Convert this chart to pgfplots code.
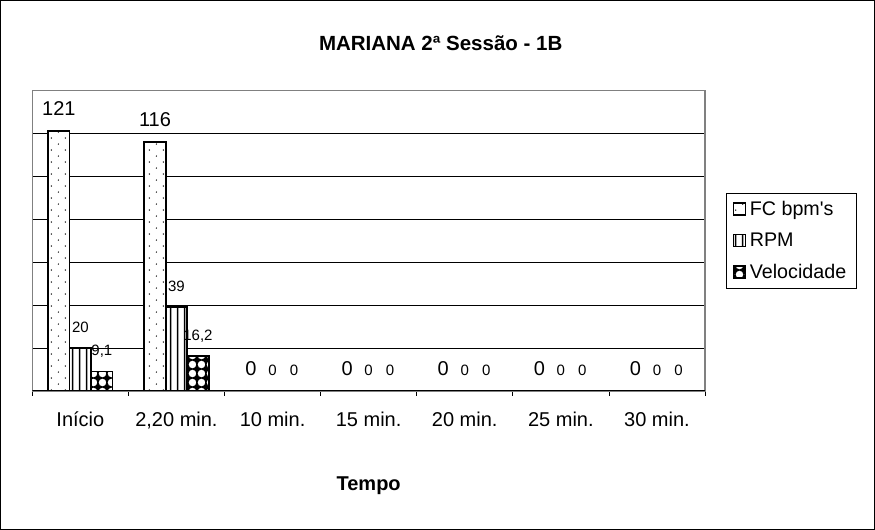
\documentclass[border=0pt]{standalone}
\usepackage{fontspec}
\setmainfont{Liberation Sans}[Ligatures=TeXOff]
\usepackage{pgfplots}
\pgfplotsset{compat=1.18}
\usetikzlibrary{patterns}

\pgfdeclarepatternformonly{fcdots}{\pgfpointorigin}{\pgfqpoint{14pt}{12pt}}{\pgfqpoint{14pt}{12pt}}{%
  \pgfpathcircle{\pgfqpoint{3.5pt}{3pt}}{0.75pt}%
  \pgfpathcircle{\pgfqpoint{10.5pt}{9pt}}{0.75pt}%
  \pgfusepath{fill}}
\pgfdeclarepatternformonly{rpmlines}{\pgfpointorigin}{\pgfqpoint{7pt}{7pt}}{\pgfqpoint{7pt}{7pt}}{%
  \pgfpathrectangle{\pgfqpoint{3pt}{0pt}}{\pgfqpoint{1.3pt}{7pt}}%
  \pgfusepath{fill}}
\pgfdeclarepatternformonly{veldiam}{\pgfpointorigin}{\pgfqpoint{9pt}{9pt}}{\pgfqpoint{9pt}{9pt}}{%
  \pgfseteorule
  \pgfpathrectangle{\pgfpointorigin}{\pgfqpoint{9pt}{9pt}}%
  \pgfpathcircle{\pgfqpoint{4.5pt}{4.5pt}}{3.9pt}%
  \pgfusepath{fill}}

\pgfplotstableread{
x fc rpm vel
0.5 121 20 9.1
1.5 116 39 16.2
2.5 0 0 0
3.5 0 0 0
4.5 0 0 0
5.5 0 0 0
6.5 0 0 0
}\datatable

\begin{document}
\begin{tikzpicture}
\useasboundingbox (0,0) rectangle (875bp,530bp);
\draw[line width=1bp] (0.5bp,0.5bp) rectangle (874.5bp,529.5bp);
\begin{axis}[
  at={(32.3bp,139bp)}, anchor=south west,
  scale only axis,
  width=672.7bp, height=300.5bp,
  xmin=0, xmax=7, ymin=0, ymax=140,
  ybar=0pt, bar width=21.5bp,
  axis line style={draw=black!50, line width=1.6bp},
  xtick={0.5,1.5,...,6.5},
  xticklabels={Início,{2,20 min.},10 min.,15 min.,20 min.,25 min.,30 min.},
  major x tick style={draw=none},
  minor xtick={0,1,...,7},
  minor x tick style={draw=black, line width=0.8bp},
  minor tick length=5bp,
  tick align=outside,
  xtick pos=bottom,
  ytick={0,20,...,140},
  yticklabels={},
  major y tick style={draw=none},
  ymajorgrids,
  grid style={draw=black, line width=0.8bp},
  xticklabel style={font=\fontsize{20bp}{24bp}\selectfont, anchor=base, yshift=-31bp},
  typeset ticklabels with strut,
  xlabel={\bfseries Tempo},
  xlabel style={font=\fontsize{20bp}{24bp}\selectfont, anchor=base, at={(axis description cs:0.5,0)}, yshift=-99bp},
  /pgf/number format/.cd, use comma, assume math mode=true, /pgfplots/.cd,
  nodes near coords,
  nodes near coords style={anchor=base, inner sep=0pt, yshift=15.5bp},
  legend style={
    at={(1.031,0.659)}, anchor=north west,
    draw=black, line width=0.8bp,
    font=\fontsize{19.7bp}{23bp}\selectfont,
    inner xsep=6.5bp, inner ysep=6bp,
    row sep=12bp,
    nodes={inner xsep=3.5bp},
  },
  legend cell align=left,
  legend image code/.code={%
    \draw[#1, line width=1.6bp] (0bp,-6bp) rectangle (12bp,6bp);},
]
\addplot[draw=black, line width=1.6bp, fill=white, postaction={pattern=fcdots},
  nodes near coords style={font=\fontsize{20bp}{24bp}\selectfont}]
  table[x=x, y=fc] {\datatable};
\addplot[draw=black, line width=1.6bp, fill=white, postaction={pattern=rpmlines},
  nodes near coords style={font=\fontsize{15bp}{18bp}\selectfont}]
  table[x=x, y=rpm] {\datatable};
\addplot[draw=black, line width=1.6bp, fill=white, postaction={pattern=veldiam},
  nodes near coords style={font=\fontsize{15bp}{18bp}\selectfont}]
  table[x=x, y=vel] {\datatable};
\legend{FC bpm's, RPM, Velocidade}
\draw[black, line width=1bp] (axis cs:0,0) -- (axis cs:7,0);
\end{axis}
\node[anchor=base, font=\fontsize{20.5bp}{24bp}\selectfont\bfseries] at (440.7bp,479bp) {MARIANA 2ª Sessão - 1B};
\end{tikzpicture}
\end{document}
